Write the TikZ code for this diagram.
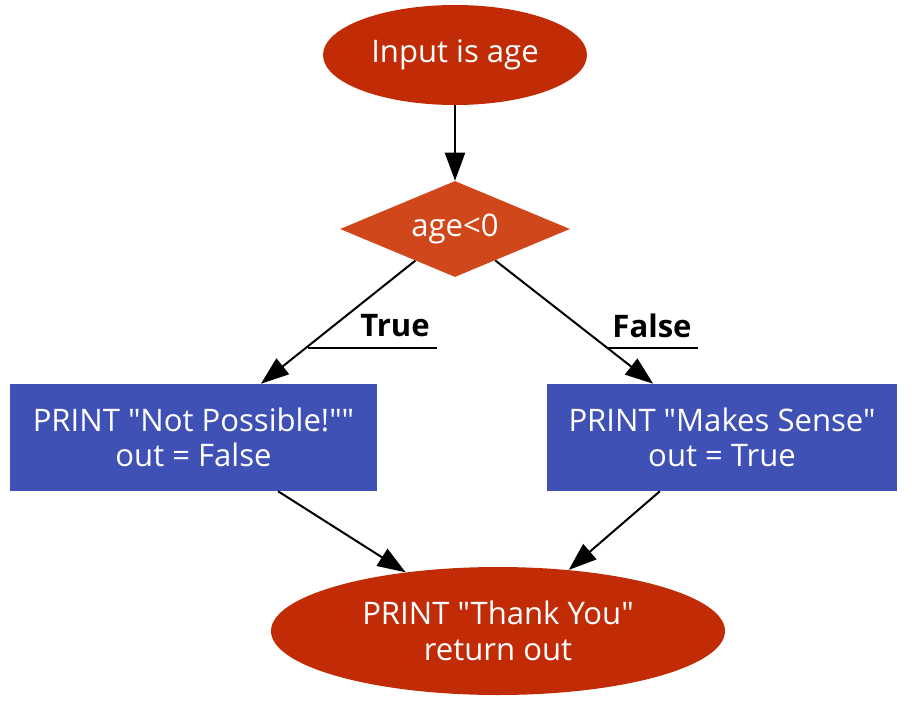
\documentclass[tikz,border=0pt]{standalone}
\usepackage{fontspec}
\setmainfont{Open Sans}[Ligatures=TeXOff]
\usetikzlibrary{shapes.geometric,arrows.meta}
\definecolor{termred}{HTML}{C12C07}
\definecolor{decred}{HTML}{D1471C}
\definecolor{procblue}{HTML}{4051B5}
\tikzset{
  every node/.style={font=\fontsize{23.3pt}{26.5pt}\selectfont, inner sep=0pt, align=center},
  term/.style={ellipse, fill=termred, text=white},
  decbox/.style={diamond, fill=decred, text=white, aspect=2.4},
  procbox/.style={rectangle, fill=procblue, text=white},
  edgelbl/.style={font=\fontsize{23.3pt}{26.5pt}\selectfont\bfseries, text=black},
  conn/.style={line width=1.5pt, -{Triangle[length=21pt,width=15pt]}},
  uline/.style={line width=1.5pt}
}
\begin{document}
\begin{tikzpicture}[x=0.75pt,y=-0.75pt]
\useasboundingbox (0,0) rectangle (917,714);
\node[term, minimum width=198pt, minimum height=75pt] (start) at (455,55) {Input is age};
\node[decbox, minimum width=172.5pt, minimum height=72pt] (dec) at (455,229) {age<0};
\node[procbox, minimum width=275.25pt, minimum height=80.25pt] (left) at (193.5,437.5) {PRINT "Not Possible!""\\out = False};
\node[procbox, minimum width=262.5pt, minimum height=80.25pt] (right) at (722,437.5) {PRINT "Makes Sense"\\out = True};
\node[term, minimum width=340.5pt, minimum height=96pt] (end) at (498,631) {PRINT "Thank You"\\return out};
\node[edgelbl] (tlbl) at (395,326) {True};
\node[edgelbl] (flbl) at (652,326) {False};
\coordinate (tu1) at (308,348);
\coordinate (tu2) at (437,348);
\coordinate (fu1) at (607,348);
\coordinate (fu2) at (698,348);
\draw[conn] (start) -- (dec);
\draw[conn] (dec) -- (left);
\draw[conn] (dec) -- (right);
\draw[conn] (left) -- (end);
\draw[conn] (right) -- (end);
\draw[uline] (tu1) -- (tu2);
\draw[uline] (fu1) -- (fu2);
\end{tikzpicture}
\end{document}
